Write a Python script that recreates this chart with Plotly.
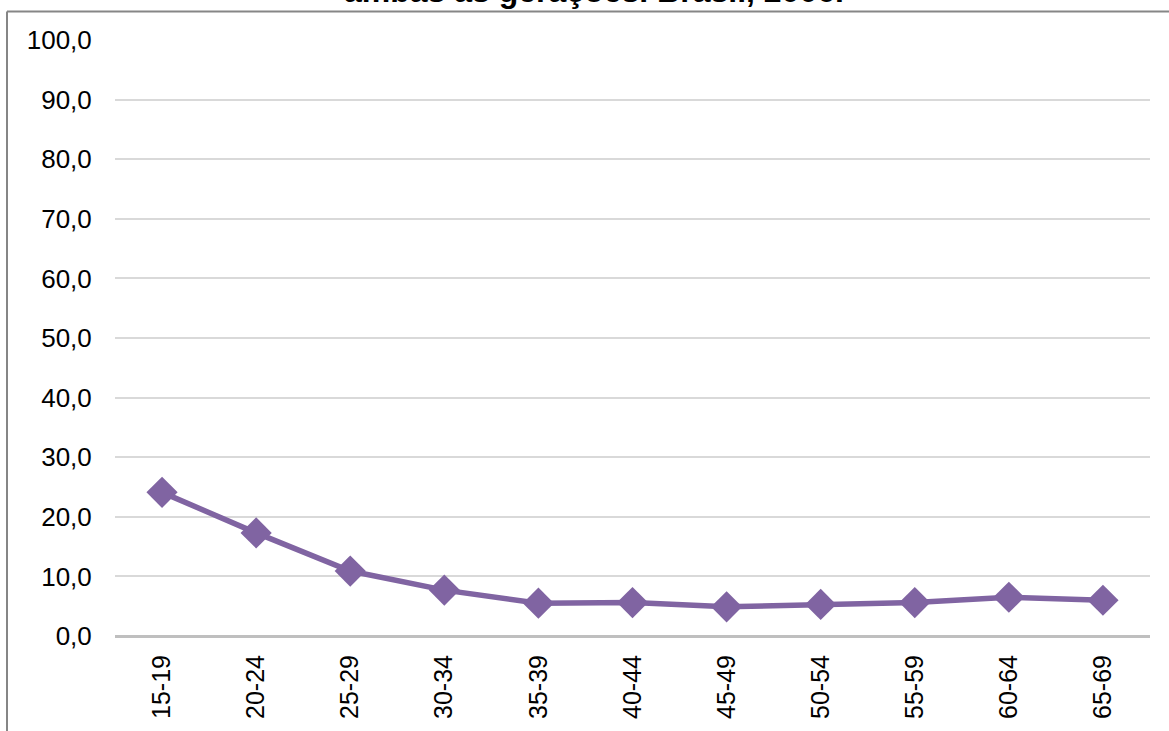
import plotly.graph_objects as go

categories = ["15-19", "20-24", "25-29", "30-34", "35-39", "40-44",
              "45-49", "50-54", "55-59", "60-64", "65-69"]
values = [24.1, 17.3, 10.9, 7.7, 5.5, 5.6, 4.9, 5.3, 5.6, 6.5, 6.0]
y_ticks = [0, 10, 20, 30, 40, 50, 60, 70, 80, 90, 100]
y_tick_labels = ["0,0", "10,0", "20,0", "30,0", "40,0", "50,0",
                 "60,0", "70,0", "80,0", "90,0", "100,0"]
title_text = "ambas as gerações. Brasil, 2006."

W, H = 1169, 731
ML, MR, MT, MB = 115, 19, 40, 95
pw, ph = W - ML - MR, H - MT - MB


def px_x(p):
    return (p - ML) / pw


def px_y(p):
    return (H - MB - p) / ph


fig = go.Figure()
fig.add_trace(go.Scatter(
    x=categories, y=values, mode="lines+markers",
    line=dict(color="#8064A2", width=5.5),
    marker=dict(symbol="diamond", size=24, color="#8064A2"),
    showlegend=False, cliponaxis=False,
))

fig.update_layout(
    width=W, height=H,
    margin=dict(l=ML, r=MR, t=MT, b=MB),
    paper_bgcolor="white", plot_bgcolor="white",
    font=dict(family="Liberation Sans, Arial, sans-serif", size=26, color="black"),
    xaxis=dict(
        type="category", range=[-0.5, 10.5], tickangle=-90, automargin=False,
        showgrid=False, zeroline=False, showline=False,
        ticks="outside", ticklen=8, tickcolor="rgba(0,0,0,0)",
        tickfont=dict(size=25),
    ),
    yaxis=dict(
        range=[0, 100], tickvals=y_ticks, ticktext=y_tick_labels, automargin=False,
        showgrid=True, gridcolor="#D9D9D9", gridwidth=2,
        zeroline=True, zerolinecolor="#BFBFBF", zerolinewidth=3,
        showline=False, ticks="outside", ticklen=17, tickcolor="rgba(0,0,0,0)",
        tickfont=dict(size=26),
    ),
    annotations=[
        dict(text="<b>" + title_text + "</b>", xref="paper", yref="paper",
             x=px_x(594), y=px_y(-9), xanchor="center", yanchor="middle",
             showarrow=False, font=dict(size=32, color="black")),
    ],
    shapes=[
        dict(type="line", xref="paper", yref="paper",
             x0=px_x(7), x1=px_x(1180), y0=px_y(11.5), y1=px_y(11.5),
             line=dict(color="#868686", width=2), layer="above"),
        dict(type="line", xref="paper", yref="paper",
             x0=px_x(7), x1=px_x(7), y0=px_y(11.5), y1=px_y(740),
             line=dict(color="#868686", width=2), layer="above"),
    ],
)

fig.write_html("out.html")
